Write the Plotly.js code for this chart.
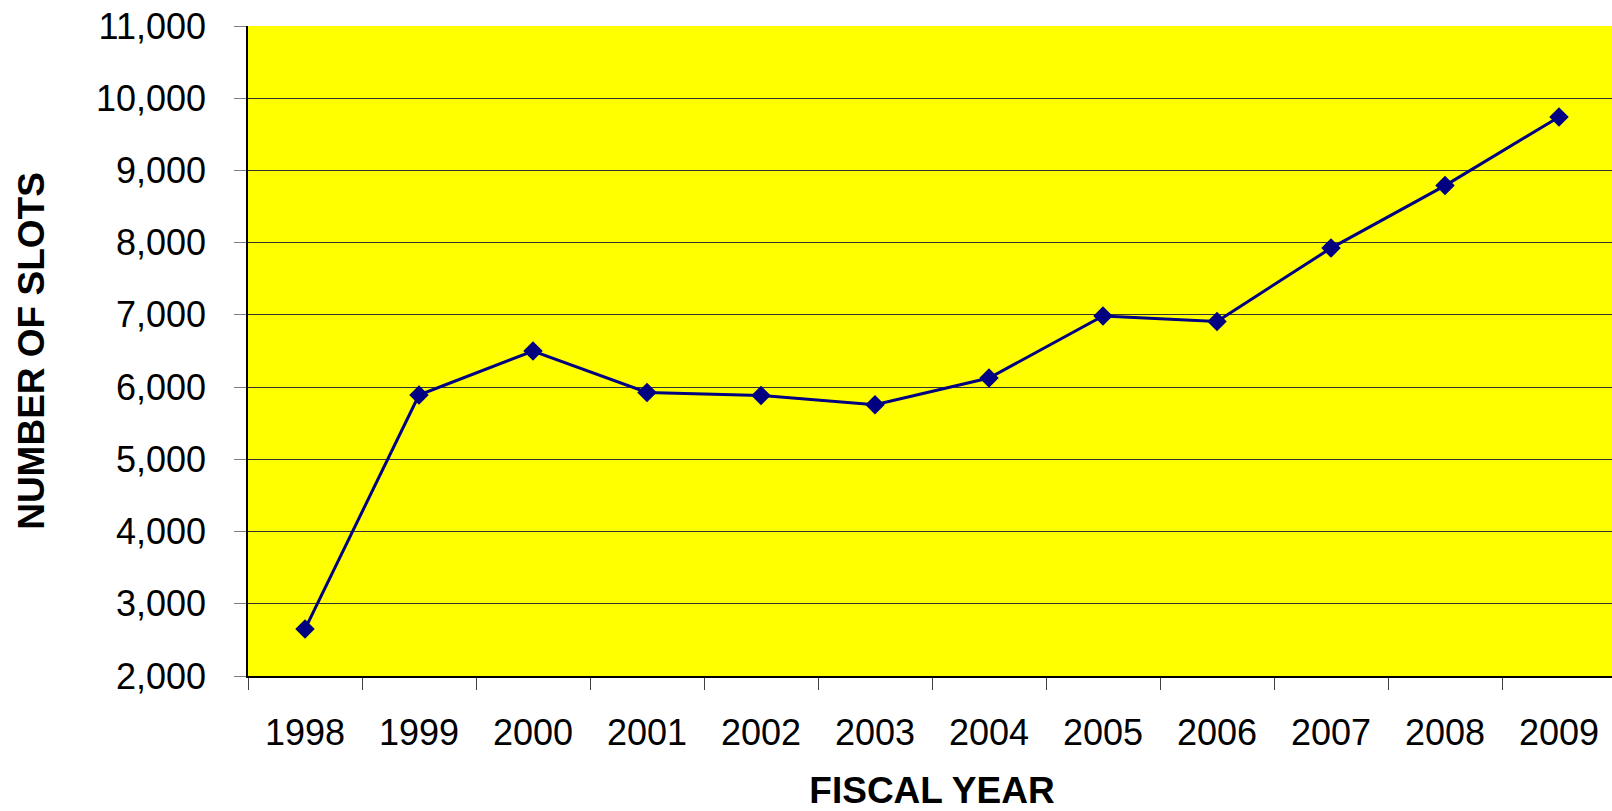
<!DOCTYPE html>
<html>
<head>
<meta charset="utf-8">
<script src="https://cdn.plot.ly/plotly-3.0.1.min.js"></script>
<style>
html, body { margin: 0; padding: 0; overflow: hidden; background: #fff; }
#chart { width: 1616px; height: 811px; }
</style>
</head>
<body>
<div id="chart"></div>
<script>
const fiscalYears = ["1998", "1999", "2000", "2001", "2002", "2003", "2004", "2005", "2006", "2007", "2008", "2009"];
const numberOfSlots = [2650, 5890, 6500, 5925, 5885, 5755, 6125, 6985, 6910, 7925, 8790, 9740];
const yTickValues = [2000, 3000, 4000, 5000, 6000, 7000, 8000, 9000, 10000, 11000];

const trace = {
  type: "scatter",
  mode: "lines+markers",
  x: fiscalYears,
  y: numberOfSlots,
  line: { color: "#000080", width: 3 },
  marker: { symbol: "diamond", size: 15, color: "#000080" },
  hoverinfo: "x+y"
};

const layout = {
  width: 1616,
  height: 811,
  margin: { l: 248, r: 0, t: 26, b: 135, pad: 0 },
  paper_bgcolor: "#ffffff",
  plot_bgcolor: "#ffff00",
  showlegend: false,
  font: { family: "Liberation Sans, Arial, sans-serif", color: "#000000" },
  xaxis: {
    type: "category",
    range: [-0.5, 11.5],
    tickson: "boundaries",
    ticks: "outside",
    ticklen: 12,
    tickcolor: "#404040",
    tickwidth: 1,
    showline: true,
    linecolor: "#000000",
    linewidth: 1.5,
    showgrid: false,
    zeroline: false,
    tickfont: { size: 36, color: "#000000" },
    ticklabelstandoff: 24,
    title: { text: "FISCAL YEAR", font: { size: 37, color: "#000000", family: "Liberation Sans, Arial, sans-serif", weight: "bold" }, standoff: 40 },
    automargin: false,
    fixedrange: true
  },
  yaxis: {
    range: [2000, 11000],
    tickvals: yTickValues,
    tickformat: ",d",
    ticks: "outside",
    ticklen: 12,
    tickcolor: "#808080",
    tickwidth: 1,
    showline: true,
    linecolor: "#000000",
    linewidth: 1.5,
    showgrid: true,
    gridcolor: "#333333",
    gridwidth: 1,
    zeroline: false,
    tickfont: { size: 36, color: "#000000" },
    ticklabelstandoff: 21,
    title: { text: "NUMBER OF SLOTS", font: { size: 37, color: "#000000", family: "Liberation Sans, Arial, sans-serif", weight: "bold" }, standoff: 40 },
    automargin: false,
    fixedrange: true
  }
};

Plotly.newPlot("chart", [trace], layout, { displayModeBar: false, staticPlot: false });
</script>
</body>
</html>
